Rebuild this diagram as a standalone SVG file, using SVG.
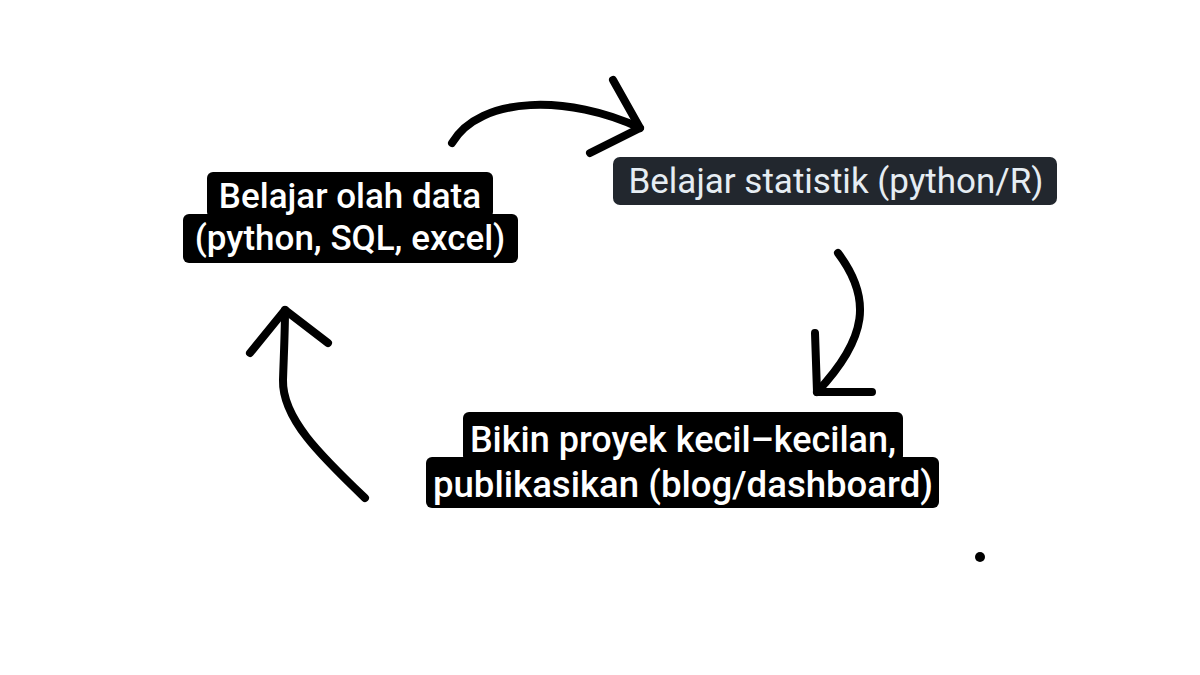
<svg xmlns="http://www.w3.org/2000/svg" width="1200" height="675" viewBox="0 0 1200 675">
<style>
.lbl{font-family:Roboto,"Liberation Sans",sans-serif;font-weight:500;fill:#fff;text-anchor:middle}
.dark{fill:#22272e}
.blk{fill:#000}
.arr{fill:none;stroke:#000;stroke-width:8;stroke-linecap:round;stroke-linejoin:round}
</style>
<rect width="1200" height="675" fill="#fff"/>
<g id="connectors">
<path class="arr" d="M452,143 C480,95 570,95 640,128"/>
<path class="arr" d="M613,80 L640,128 L590,153"/>
<path class="arr" d="M838,253 C872,298 868,338 817,392"/>
<path class="arr" d="M815,333 L817,392 L872,392"/>
<path class="arr" d="M365,498 C320,455 282,418 283,380 C284,350 285,330 285,310"/>
<path class="arr" d="M250,353 L285,310 L328,343"/>
</g>
<g id="node-olah-data">
<rect class="blk" x="207" y="172" width="286" height="46" rx="6"/>
<rect class="blk" x="183" y="214" width="335" height="49" rx="6"/>
<text class="lbl" x="350" y="208" font-size="35">Belajar olah data</text>
<text class="lbl" x="350" y="250" font-size="35">(python, SQL, excel)</text>
</g>
<g id="node-statistik">
<rect class="dark" x="613" y="157" width="444" height="48" rx="7"/>
<text class="lbl" x="836" y="193" font-size="35" style="fill:#e6edf3;font-weight:400">Belajar statistik (python/R)</text>
</g>
<g id="node-proyek">
<rect class="blk" x="463" y="412" width="440" height="50" rx="6"/>
<rect class="blk" x="426" y="457" width="513" height="51" rx="6"/>
<text class="lbl" x="683" y="452" font-size="36">Bikin proyek kecil–kecilan,</text>
<text class="lbl" x="683" y="497" font-size="36.6">publikasikan (blog/dashboard)</text>
</g>
<circle cx="980" cy="557" r="5" fill="#000"/>
</svg>
